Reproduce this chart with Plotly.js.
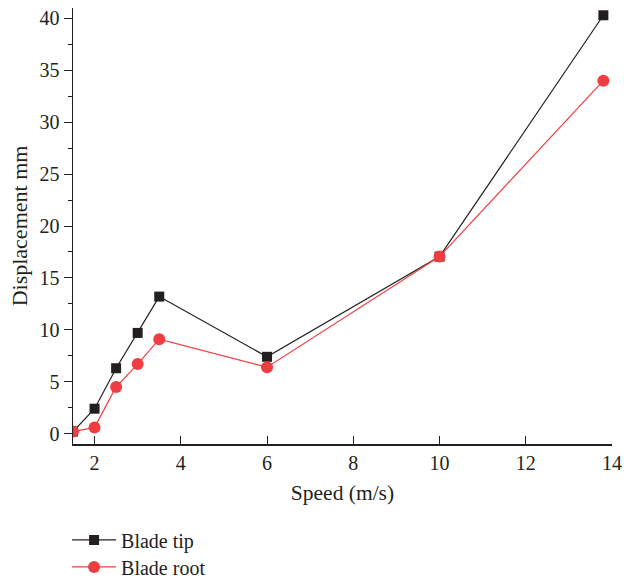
<!DOCTYPE html>
<html>
<head>
<meta charset="utf-8">
<script src="https://cdn.plot.ly/plotly-3.0.1.min.js"></script>
<style>html,body{margin:0;padding:0;background:#fff;}#chart{width:624px;height:579px;}</style>
</head>
<body>
<div id="chart"></div>
<script>
const speed = [1.5, 2, 2.5, 3, 3.5, 6, 10, 13.8];
const bladeTip = [0.2, 2.4, 6.3, 9.7, 13.2, 7.4, 17.05, 40.3];
const bladeRoot = [0.2, 0.6, 4.5, 6.7, 9.1, 6.4, 17.05, 34.0];
const seriesNames = ['Blade tip', 'Blade root'];

const fontFam = '"Liberation Serif", "DejaVu Serif", serif';
const traces = [
  {x: speed, y: bladeTip, name: seriesNames[0], mode: 'lines+markers', legend: 'legend',
   line: {color: '#231f20', width: 1.2}, marker: {symbol: 'square', size: 10, color: '#231f20'}},
  {x: speed, y: bladeRoot, name: seriesNames[1], mode: 'lines+markers', legend: 'legend2',
   line: {color: '#ef3e42', width: 1.2}, marker: {symbol: 'circle', size: 12, color: '#ef3e42'}}
];
const legFont = {family: fontFam, size: 20, color: '#231f20'};
const layout = {
  width: 624, height: 579,
  margin: {l: 73, r: 12, t: 8, b: 135, autoexpand: false},
  paper_bgcolor: '#fff', plot_bgcolor: '#fff',
  font: {family: fontFam, size: 20, color: '#231f20'},
  showlegend: true,
  legend: {x: -0.011, y: -0.220, xanchor: 'left', yanchor: 'middle', itemwidth: 44,
           font: legFont, bgcolor: 'rgba(0,0,0,0)'},
  legend2: {x: -0.011, y: -0.282, xanchor: 'left', yanchor: 'middle', itemwidth: 44,
           font: legFont, bgcolor: 'rgba(0,0,0,0)'},
  xaxis: {range: [1.5, 14], tickvals: [2,4,6,8,10,12,14], ticks: 'inside', ticklen: 8,
          tickcolor: '#231f20', showline: true, linecolor: '#231f20', linewidth: 1.5,
          showgrid: false, zeroline: false, mirror: false, automargin: false,
          tickfont: {family: fontFam, size: 20},
          title: {text: 'Speed (m/s)', font: {family: fontFam, size: 21.5}, standoff: 12}},
  yaxis: {range: [-1, 41], tickvals: [0,5,10,15,20,25,30,35,40], ticks: 'outside', ticklen: 8,
          tickcolor: '#231f20', showline: true, linecolor: '#231f20', linewidth: 1.5,
          showgrid: false, zeroline: false, mirror: false, automargin: false,
          minor: {dtick: 2.5, ticks: 'outside', ticklen: 4, tickcolor: '#231f20', showgrid: false},
          tickfont: {family: fontFam, size: 20},
          title: {text: 'Displacement mm', font: {family: fontFam, size: 22}, standoff: 6}}
};
Plotly.newPlot('chart', traces, layout, {displayModeBar: false, staticPlot: true});
</script>
</body>
</html>
